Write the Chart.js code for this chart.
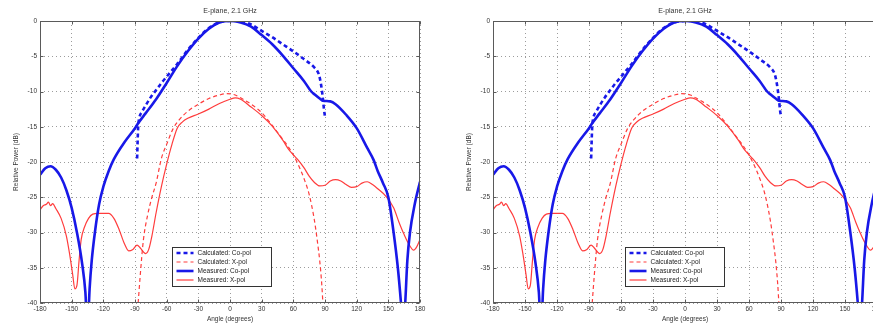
<!DOCTYPE html>
<html><head><meta charset="utf-8">
<script src="https://cdn.jsdelivr.net/npm/chart.js@4"></script>
<style>
html,body{margin:0;padding:0;background:#fff;overflow:hidden;width:873px;height:325px;}
.wrap{position:absolute;top:0;height:325px;}
canvas{display:block;}
</style></head><body>
<div class="wrap" style="left:0;width:436px"><canvas id="c1" width="436" height="325"></canvas></div>
<div class="wrap" style="left:453px;width:440px"><canvas id="c2" width="440" height="325"></canvas></div>
<script>
// ---- data ----
const chartTitle = 'E-plane, 2.1 GHz';
const xTitle = 'Angle (degrees)';
const yTitle = 'Relative Power (dB)';
const seriesNames = ['Calculated: Co-pol', 'Calculated: X-pol', 'Measured: Co-pol', 'Measured: X-pol'];

const calcCoAngle = [-88,-87.5,-87,-86,-83,-80,-75,-70,-65,-60,-55,-50,-40,-30,-20,-10,0,10,20,30,40,50,60,70,80,84,86,88,89,90];
const calcCoVal   = [-19.5,-17,-15,-13.8,-12.8,-12,-10.8,-9.8,-8.8,-7.9,-7.0,-6.1,-4.1,-2.4,-1.0,-0.2,0,0,-0.5,-1.4,-2.3,-3.3,-4.3,-5.4,-6.6,-7.5,-8.8,-11,-12.5,-13.6];

const calcXAngle = [-87,-85,-82,-78,-74,-70,-65,-60,-54,-48,-40,-30,-20,-10,-3,5,10,20,30,40,50,55,60,65,70,75,80,83,85,87,88];
const calcXVal   = [-40,-36,-31,-27.5,-25,-23,-19.5,-17.5,-15.3,-14,-12.8,-11.8,-11.0,-10.5,-10.3,-10.5,-10.9,-11.8,-13,-14.8,-16.8,-17.8,-19,-20.5,-22.3,-24.6,-28.3,-31.5,-34,-37.5,-40];

const measCoAngle = [-180,-175,-170,-165,-160,-155,-150,-145,-140,-137,-135,-133,-131,-128,-124,-120,-115,-110,-100,-90,-87,-80,-70,-60,-50,-40,-30,-20,-10,0,10,20,30,40,50,60,70,77,80,85,88,95,100,110,120,130,136,140,145,150,155,159,162,164,166,168,170.5,175,180];
const measCoVal   = [-21.8,-20.9,-20.6,-21.1,-22.2,-24,-26.5,-30,-34.5,-38.5,-44,-38,-34,-30,-26,-23.5,-21.3,-19.6,-17.2,-15.2,-14.5,-13.1,-11.1,-8.8,-6.4,-4.3,-2.5,-1.1,-0.2,0,-0.2,-0.8,-2.0,-3.3,-4.9,-6.7,-8.5,-10,-10.4,-11.0,-11.3,-11.4,-11.8,-13.3,-15.2,-18,-19.7,-21.3,-23.0,-25,-30,-35,-40,-44,-40,-34,-30,-26,-22.8];

const measXAngle = [-180,-177,-174,-172,-170,-168,-165,-160,-155,-152,-149,-147,-145,-143,-141,-138,-134,-130,-125,-115,-110,-105,-100,-96,-92,-88,-85,-80,-77,-74,-70,-65,-60,-55,-50,-45,-40,-30,-20,-10,0,5,10,20,30,40,50,55,60,65,70,75,80,85,90,95,100,105,110,115,120,125,130,135,140,148,155,160,165,170,174,177,180];
const measXVal   = [-26.8,-26.2,-26.0,-25.7,-26.2,-25.9,-26.6,-28,-30.5,-33,-36,-38,-37.5,-34,-31,-29.3,-28,-27.4,-27.3,-27.3,-28,-29.6,-31.6,-32.6,-32.4,-31.8,-32.2,-33.0,-32.4,-30.5,-27.2,-23.5,-20.3,-17.5,-15.2,-14.3,-13.8,-13.2,-12.5,-11.7,-11.1,-10.9,-11.1,-12.2,-13.4,-14.9,-16.9,-18.1,-19,-19.8,-20.8,-22,-22.9,-23.4,-23.3,-22.7,-22.5,-22.7,-23.2,-23.6,-23.5,-23.0,-22.8,-23.2,-23.8,-24.9,-26.5,-28.5,-30.3,-31.8,-32.5,-32,-31];

const xTicks = [-180,-150,-120,-90,-60,-30,0,30,60,90,120,150,180];
const yTicks = [0,-5,-10,-15,-20,-25,-30,-35,-40];

// ---- styles ----
const BLUE = '#1818e8';
const RED = '#ff3c3c';
const FONT = '"Liberation Sans", Arial, Helvetica, sans-serif';

function pts(a, v){ return a.map((x,i)=>({x:x, y:v[i]})); }

const framePlugin = {
  id: 'frame',
  afterDatasetsDraw(chart){
    const {ctx, chartArea:a, scales:{x, y}} = chart;
    const L = Math.round(a.left)+0.5, R = Math.round(a.right)-0.5, T = Math.round(a.top)+0.5, B = Math.round(a.bottom)-0.5;
    ctx.save();
    ctx.strokeStyle = '#5a5a5a';
    ctx.lineWidth = 1;
    ctx.strokeRect(L, T, R-L, B-T);
    ctx.beginPath();
    xTicks.forEach(v => {
      const px = Math.round(x.getPixelForValue(v))+0.5;
      ctx.moveTo(px, B); ctx.lineTo(px, B-3);
      ctx.moveTo(px, T); ctx.lineTo(px, T+3);
    });
    yTicks.forEach(v => {
      const py = Math.round(y.getPixelForValue(v))+0.5;
      ctx.moveTo(L, py); ctx.lineTo(L+3, py);
      ctx.moveTo(R, py); ctx.lineTo(R-3, py);
    });
    ctx.stroke();
    // legend box
    const bx = Math.round(a.left) + 132.5, by = Math.round(a.top) + 226.5, bw = 99, bh = 39;
    ctx.fillStyle = '#fff';
    ctx.fillRect(bx, by, bw, bh);
    ctx.strokeStyle = '#333';
    ctx.strokeRect(bx, by, bw, bh);
    ctx.font = '6.5px ' + FONT;
    ctx.textBaseline = 'middle';
    ctx.textAlign = 'left';
    chart.data.datasets.forEach((ds, i) => {
      const ry = by + 5.5 + i*9;
      ctx.beginPath();
      ctx.strokeStyle = ds.borderColor;
      ctx.lineWidth = ds.borderWidth;
      ctx.setLineDash(ds.borderDash || []);
      ctx.moveTo(bx+4, ry); ctx.lineTo(bx+21, ry);
      ctx.stroke();
      ctx.setLineDash([]);
      ctx.fillStyle = '#222';
      ctx.fillText(ds.label, bx+25, ry);
    });
    ctx.restore();
  }
};

function makeChart(id){
  return new Chart(document.getElementById(id), {
    type: 'line',
    data: {
      datasets: [
        {label: seriesNames[0], data: pts(calcCoAngle, calcCoVal), borderColor: BLUE, borderWidth: 2.6, borderDash: [4,3]},
        {label: seriesNames[1], data: pts(calcXAngle, calcXVal), borderColor: RED, borderWidth: 1.2, borderDash: [4,3]},
        {label: seriesNames[2], data: pts(measCoAngle, measCoVal), borderColor: BLUE, borderWidth: 2.6},
        {label: seriesNames[3], data: pts(measXAngle, measXVal), borderColor: RED, borderWidth: 1.2}
      ].map(d => Object.assign({pointRadius: 0, fill: false, cubicInterpolationMode: 'monotone'}, d))
    },
    options: {
      responsive: false,
      animation: false,
      devicePixelRatio: 1,
      layout: {padding: {left: 0, right: 16, top: 0, bottom: 0}},
      plugins: {
        legend: {display: false},
        tooltip: {enabled: false},
        title: {display: true, text: chartTitle, fullSize: false, color: '#333',
                font: {size: 7, family: FONT, weight: 'normal'}, padding: {top: 7, bottom: 5.6}}
      },
      scales: {
        x: {
          type: 'linear', min: -180, max: 180,
          afterBuildTicks: s => { s.ticks = xTicks.map(v => ({value: v})); },
          afterFit: s => { s.height = 22; },
          ticks: {font: {size: 6.5, family: FONT}, color: '#333', padding: 2, maxRotation: 0, autoSkip: false},
          grid: {color: '#9c9c9c', drawTicks: false, lineWidth: 1},
          border: {display: false, dash: [1,3]},
          title: {display: true, text: xTitle, font: {size: 6.5, family: FONT}, color: '#333', padding: {top: 0, bottom: 2}}
        },
        y: {
          type: 'linear', min: -40, max: 0,
          afterBuildTicks: s => { s.ticks = yTicks.slice().reverse().map(v => ({value: v})); },
          afterFit: s => { s.width = 40; },
          ticks: {font: {size: 6.5, family: FONT}, color: '#333', padding: 3, autoSkip: false},
          grid: {color: '#9c9c9c', drawTicks: false, lineWidth: 1},
          border: {display: false, dash: [1,3]},
          title: {display: true, text: yTitle, font: {size: 6.5, family: FONT}, color: '#333', padding: {top: 12.5, bottom: 0}}
        }
      }
    },
    plugins: [framePlugin]
  });
}
makeChart('c1');
makeChart('c2');
</script>
</body></html>
